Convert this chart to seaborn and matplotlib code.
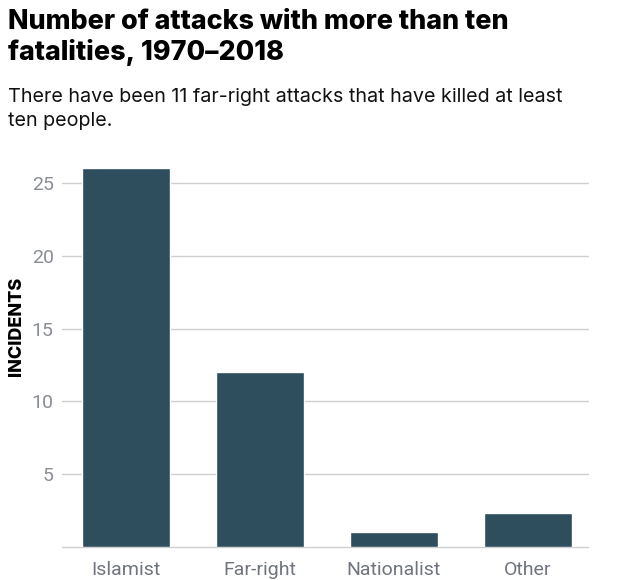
#!/usr/bin/env python3
"""
Generate figure for attacks with more than ten fatalities
"""

import matplotlib.pyplot as plt
import pandas as pd
import seaborn as sns

# Set style
sns.set_style("whitegrid")
plt.rcParams['figure.figsize'] = (6.18, 5.8)
plt.rcParams['font.family'] = ['Roboto', 'DejaVu Sans']

categories = ['Islamist', 'Far-right', 'Nationalist', 'Other']
incidents = [26, 12, 1, 2.35]
y_ticks = [0, 5, 10, 15, 20, 25]

# Figure: Bar chart of incidents by ideology
def generate_fig_attacks():
    """Bar chart showing incidents for each attack type"""
    df = pd.DataFrame({'category': categories, 'incidents': incidents})

    fig = plt.figure(dpi=100)
    ax = fig.add_axes([62 / 618, 33 / 580, 526 / 618, 380 / 580])

    sns.barplot(data=df, x='category', y='incidents', color='#2e4d5d',
                width=0.655, saturation=1, ax=ax, zorder=3)

    ax.set_xlim(-0.478, 3.448)
    ax.set_ylim(0, 26.1)
    ax.set_yticks(y_ticks)
    ax.set_xlabel('')
    ax.set_ylabel('')
    ax.grid(axis='x', visible=False)
    ax.grid(axis='y', color='#cfcfcf', linewidth=1)
    ax.set_axisbelow(True)
    for line in ax.get_ygridlines():
        line.set_clip_on(False)  # keep the baseline whole
    sns.despine(ax=ax, left=True, top=True, right=True, bottom=True)
    ax.tick_params(axis='x', length=0, labelsize=14, labelcolor='#6f7480', pad=10)
    ax.tick_params(axis='y', length=0, labelsize=14, labelcolor='#8a8d94', pad=6)
    ax.get_yticklabels()[0].set_visible(False)  # no zero label

    # Heading block
    fig.text(8 / 618, 1 - 29 / 580, 'Number of attacks with more than ten', family='Inter',
             fontsize=19.35, fontweight='heavy', color='black', va='baseline')
    fig.text(8 / 618, 1 - 60 / 580, 'fatalities, 1970–2018', family='Inter',
             fontsize=19.35, fontweight='heavy', color='black', va='baseline')
    fig.text(8 / 618, 1 - 102 / 580, 'There have been 11 far-right attacks that have killed at least',
             family='Inter', fontsize=14.2, color='#111111', va='baseline')
    fig.text(8 / 618, 1 - 126 / 580, 'ten people.',
             family='Inter', fontsize=14.2, color='#111111', va='baseline')

    fig.text(16.5 / 618, 1 - 326 / 580, 'INCIDENTS', family='Inter', fontsize=13,
             fontweight='heavy', color='black', rotation=90, ha='center', va='center')

    plt.savefig('out.png', dpi=100)
    plt.close()
    print("✓ Generated out.png")

if __name__ == '__main__':
    generate_fig_attacks()
